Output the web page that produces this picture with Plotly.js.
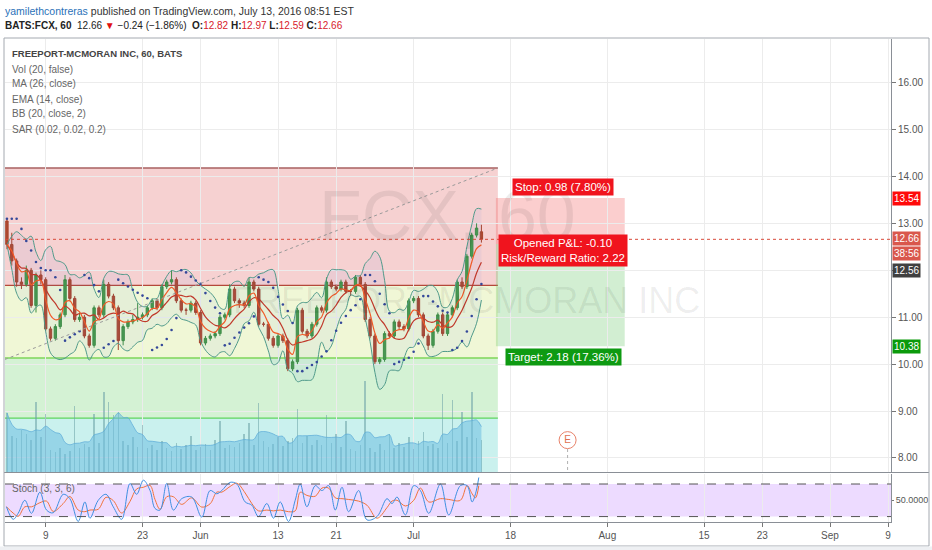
<!DOCTYPE html>
<html><head><meta charset="utf-8">
<script src="https://cdn.plot.ly/plotly-3.0.1.min.js"></script>
<style>html,body{margin:0;padding:0;background:#fff;}#chart{width:932px;height:550px;}</style>
</head><body><div id="chart"></div>
<script>
// ---------- DATA (2 bars per trading day, x = trading days from May 9) ----------
const opens  = [13.05,12.55,12.20,11.75,11.70,12.00,11.25,11.90,11.80,10.75,10.55,10.80,11.05,11.80,11.40,10.95,11.00,10.60,10.40,11.20,11.05,11.70,11.45,11.20,10.50,10.80,10.90,10.95,11.00,11.05,11.20,11.35,11.20,11.65,11.75,11.80,11.35,11.15,11.15,11.30,11.10,10.45,10.55,10.60,10.65,11.00,11.05,11.60,11.35,11.30,11.25,11.75,11.60,10.85,10.85,10.55,10.40,10.60,10.50,9.90,10.05,11.15,10.70,10.60,10.85,11.20,11.15,11.75,11.65,11.60,11.75,11.55,11.55,11.85,11.70,10.95,10.60,10.05,10.10,10.65,10.60,10.90,10.80,10.75,11.35,11.40,11.05,10.60,10.40,10.70,11.05,10.65,11.05,11.20,11.75,11.65,12.30,12.75,12.82];
const highs  = [13.10,12.80,12.25,11.85,12.10,12.05,11.95,12.00,11.85,10.80,10.85,11.10,11.90,11.85,11.45,11.10,11.05,10.65,11.25,11.25,11.80,11.75,11.50,11.25,10.85,10.95,11.05,11.30,11.10,11.25,11.40,11.40,11.70,11.80,12.00,11.85,11.40,11.20,11.35,11.35,11.15,10.60,10.65,10.70,11.05,11.10,11.70,11.65,11.40,11.35,11.85,11.80,11.65,10.90,10.90,10.60,10.65,10.65,10.55,10.10,11.20,11.20,10.75,10.90,11.25,11.25,11.85,11.80,11.70,11.80,11.80,11.60,11.90,11.90,11.75,11.00,10.65,10.15,10.70,10.70,10.95,10.95,10.85,11.40,11.45,11.45,11.10,10.65,10.75,11.10,11.10,11.10,11.25,11.80,11.85,12.35,12.80,13.00,12.97];
const lows   = [12.45,12.10,11.65,11.60,11.65,11.20,11.10,11.70,10.70,10.50,10.50,10.75,11.00,11.35,10.90,10.90,10.55,10.35,10.35,11.00,11.00,11.40,11.15,10.30,10.40,10.75,10.85,10.90,10.95,11.00,11.15,11.15,11.15,11.60,11.70,11.30,11.10,11.05,11.10,11.05,10.40,10.40,10.50,10.55,10.60,10.95,11.00,11.30,11.20,11.20,11.20,11.55,10.80,10.80,10.50,10.35,10.35,10.45,9.85,9.85,10.00,10.65,10.55,10.55,10.80,11.10,11.10,11.60,11.55,11.55,11.50,11.45,11.50,11.65,10.90,10.55,10.00,10.00,10.05,10.55,10.55,10.75,10.70,10.70,11.30,11.00,10.55,10.30,10.35,10.65,10.60,10.60,11.00,11.15,11.60,11.60,12.25,12.70,12.59];
const closes = [12.55,12.20,11.75,11.70,12.00,11.25,11.90,11.80,10.75,10.55,10.80,11.05,11.80,11.40,10.95,11.00,10.60,10.40,11.20,11.05,11.70,11.45,11.20,10.50,10.80,10.90,10.95,11.00,11.05,11.20,11.35,11.20,11.65,11.75,11.80,11.35,11.15,11.15,11.30,11.10,10.45,10.55,10.60,10.65,11.00,11.05,11.60,11.35,11.30,11.25,11.75,11.60,10.85,10.85,10.55,10.40,10.60,10.50,9.90,10.05,11.15,10.70,10.60,10.85,11.20,11.15,11.75,11.65,11.60,11.75,11.55,11.55,11.85,11.70,10.95,10.60,10.05,10.10,10.65,10.60,10.90,10.80,10.75,11.35,11.40,11.05,10.60,10.40,10.70,11.05,10.65,11.05,11.20,11.75,11.65,12.30,12.75,12.90,12.66];
const volumes = [8.5,5.2,4.8,6.0,5.5,4.6,10.0,5.0,8.3,3.2,2.8,3.5,2.6,3.0,9.5,3.4,4.0,3.6,8.3,4.2,11.5,10.0,8.2,8.6,4.5,3.8,5.0,3.6,6.7,3.4,3.9,3.2,4.4,3.5,3.0,4.2,3.3,3.8,5.2,3.1,3.6,4.0,3.2,4.6,7.3,3.4,3.9,3.6,4.2,5.5,7.0,3.8,9.9,4.4,3.6,4.0,5.0,3.7,4.4,4.8,9.0,4.2,5.1,3.9,4.6,3.8,8.2,4.1,5.4,3.6,7.3,3.3,3.0,3.8,13.0,3.5,2.9,4.0,3.2,5.5,3.4,4.2,3.6,5.0,3.3,4.4,5.8,3.7,4.0,3.5,11.1,4.2,10.3,4.5,8.6,5.0,11.5,4.8,4.6];

const stochDays = [-4.05,-3.36,-2.84,-2.15,-1.46,-0.60,0.09,0.78,1.81,2.50,3.36,4.05,4.57,5.43,6.23,6.98,7.85,8.71,9.40,10.09,10.78,11.29,11.81,12.50,13.19,14.05,15.08,16.12,16.98,17.67,18.19,19.05,19.74,20.60,21.29,21.98,22.84,23.53,24.22,25.08,25.77,26.29,26.98,27.84,28.53,29.22,29.91,30.60,31.29,32.32,33.18,34.22,35.25,35.77,36.29,37.15,38.01,38.70,39.56,40.77,41.63,42.83,43.52,44.04,44.39,44.73];
const stochK = [38,15,26,50,26,65,32,27,61,53,11,47,17,50,61,38,15,81,61,87,68,35,32,81,32,53,56,19,68,62,68,83,80,47,41,20,44,17,47,11,50,80,38,77,68,77,32,74,29,68,14,20,53,44,56,23,77,68,26,80,23,77,77,47,62,92];

const tickDays   = [0,10,16,24,30,38,48,58,68,74,81,87];
const tickLabels = ['9','23','Jun','13','21','Jul','18','Aug','15','23','Sep','9'];
const priceTicks = [8,9,10,11,12,13,14,15,16];
const priceTickText = ['8.00','9.00','10.00','11.00','','13.00','14.00','15.00','16.00']; // 12.00 hidden behind the 12.56 label

const fibLevels  = [14.18,11.68,10.13,8.85,7.63];
const fibDays    = [-4.2,46.7];
const trendPrices = [10.10,14.18];
const posDays    = [46.5,59.8];
const posPrices  = {stop:13.54, entry:12.56, target:10.38};
const lastPrice  = 12.66;
const earningsDay = 53.9, earningsPrice = 8.38;

// ---------- derived series ----------
const barDays = closes.map((_, i) => -4 + 0.5 * i);
function sma(a, n){return a.map((_, i)=>{const w=a.slice(Math.max(0,i-n+1),i+1);return w.reduce((s,v)=>s+v,0)/w.length;});}
function ema(a, n){const k=2/(n+1);const o=[];a.forEach((v,i)=>o.push(i?o[i-1]+k*(v-o[i-1]):v));return o;}
function bb(a, n, m){const mid=sma(a,n);const up=[],lo=[];a.forEach((_,i)=>{const w=a.slice(Math.max(0,i-n+1),i+1);const mu=mid[i];const sd=Math.sqrt(w.reduce((s,v)=>s+(v-mu)*(v-mu),0)/w.length);up.push(mu+m*sd);lo.push(mu-m*sd);});return {up,lo};}
function psar(h,l,step,max){const out=[];let up=false,af=step,ep=l[0],sar=h[0];out.push(sar);
 for(let i=1;i<h.length;i++){sar=sar+af*(ep-sar);
  if(up){sar=Math.min(sar,l[i-1],i>1?l[i-2]:l[i-1]);if(l[i]<sar){up=false;sar=ep;ep=l[i];af=step;}else if(h[i]>ep){ep=h[i];af=Math.min(af+step,max);}}
  else{sar=Math.max(sar,h[i-1],i>1?h[i-2]:h[i-1]);if(h[i]>sar){up=true;sar=ep;ep=h[i];af=step;}else if(l[i]<ep){ep=l[i];af=Math.min(af+step,max);}}
  out.push(sar);}return out;}
const ma26 = sma(closes,7), ema14 = ema(closes,4), bands = bb(closes,6,2), sar = psar(highs,lows,0.05,0.2);
const volMA = sma(volumes,6);
const stochD = stochK.map((v,i)=> i? (v+stochK[i-1])/2 : v);

// ---------- layout helpers ----------
const L=5,R=41,T=39,B=28,W=932,H=550,PW=W-L-R,PH=H-T-B;
const xp = px => (px-L)/PW, yp = py => (H-B-py)/PH;
const FONT = '"Liberation Sans",Arial,sans-serif';

const traces = [
 {type:'bar',x:barDays,y:volumes,yaxis:'y2',xaxis:'x',width:0.16,marker:{color:'rgba(105,160,165,0.55)',line:{width:0}},hoverinfo:'skip'},
 {type:'scatter',mode:'lines',x:barDays,y:volMA,yaxis:'y2',xaxis:'x',fill:'tozeroy',fillcolor:'rgba(110,190,225,0.55)',line:{color:'rgba(90,170,215,0.7)',width:1,shape:'spline'},hoverinfo:'skip'},
 {type:'scatter',mode:'lines',x:barDays,y:bands.up,line:{color:'#4f9a8a',width:1,shape:'spline'},hoverinfo:'skip'},
 {type:'scatter',mode:'lines',x:barDays,y:bands.lo,line:{color:'#4f9a8a',width:1,shape:'spline'},fill:'tonexty',fillcolor:'rgba(60,120,230,0.06)',hoverinfo:'skip'},
 {type:'scatter',mode:'lines',x:barDays,y:ma26,line:{color:'#c0392b',width:1.2,shape:'spline'},hoverinfo:'skip'},
 {type:'scatter',mode:'lines',x:barDays,y:ema14,line:{color:'#f05a28',width:1.2,shape:'spline'},hoverinfo:'skip'},
 {type:'scatter',mode:'markers',x:barDays,y:sar,marker:{color:'#34489a',size:2.6},hoverinfo:'skip'},
 {type:'candlestick',x:barDays,open:opens,high:highs,low:lows,close:closes,whiskerwidth:0,
  increasing:{line:{color:'#3f8f3f',width:1},fillcolor:'#4a9a4a'},decreasing:{line:{color:'#a6452c',width:1},fillcolor:'#b04a30'},hoverinfo:'skip'},
 {type:'scatter',mode:'markers+text',x:[earningsDay],y:[earningsPrice],text:['E'],textposition:'middle center',
  textfont:{color:'#e0704f',size:10,family:FONT},marker:{symbol:'circle',size:17,color:'#ffffff',line:{color:'#e8826a',width:1}},hoverinfo:'skip'},
 {type:'scatter',mode:'lines',x:stochDays,y:stochD,xaxis:'x2',yaxis:'y3',line:{color:'#f0733a',width:1,shape:'spline'},hoverinfo:'skip'},
 {type:'scatter',mode:'lines',x:stochDays,y:stochK,xaxis:'x2',yaxis:'y3',line:{color:'#3d8fe0',width:1,shape:'spline'},hoverinfo:'skip'}
];

const shapes = [];
const fibFill = ['rgba(224,102,102,0.30)','rgba(205,230,120,0.30)','rgba(100,210,100,0.28)','rgba(80,210,200,0.30)'];
const fibLine = ['#a86060','#b5483a','#7ed65a','#5fd45f'];
for(let k=0;k<4;k++){
 shapes.push({type:'rect',xref:'x',yref:'y',x0:fibDays[0],x1:fibDays[1],y0:fibLevels[k+1],y1:fibLevels[k],fillcolor:fibFill[k],line:{width:0},layer:'below'});
 shapes.push({type:'line',xref:'x',yref:'y',x0:fibDays[0],x1:fibDays[1],y0:fibLevels[k],y1:fibLevels[k],line:{color:fibLine[k],width:1.3},layer:'below'});
}
shapes.push({type:'line',xref:'x',yref:'y',x0:fibDays[0],x1:fibDays[1],y0:trendPrices[0],y1:trendPrices[1],line:{color:'#9a9a9a',width:1,dash:'dot'}});
shapes.push({type:'rect',xref:'x',yref:'y',x0:posDays[0],x1:posDays[1],y0:posPrices.entry,y1:posPrices.stop,fillcolor:'rgba(242,80,80,0.28)',line:{width:0},layer:'below'});
shapes.push({type:'rect',xref:'x',yref:'y',x0:posDays[0],x1:posDays[1],y0:posPrices.target,y1:posPrices.entry,fillcolor:'rgba(80,190,80,0.26)',line:{width:0},layer:'below'});
shapes.push({type:'line',xref:'paper',yref:'y',x0:0,x1:1,y0:lastPrice,y1:lastPrice,line:{color:'#d84a3a',width:1,dash:'dot'}});
shapes.push({type:'line',xref:'x',yref:'y',x0:earningsDay,x1:earningsDay,y0:earningsPrice-0.19,y1:7.70,line:{color:'#b0b0b0',width:1,dash:'dot'}});
// stoch band
shapes.push({type:'rect',xref:'paper',yref:'y3',x0:0,x1:1,y0:20,y1:80,fillcolor:'rgba(175,90,255,0.22)',line:{width:0},layer:'below'});
[20,80].forEach(v=>shapes.push({type:'line',xref:'paper',yref:'y3',x0:0,x1:1,y0:v,y1:v,line:{color:'#555',width:1,dash:'dash'}}));
// frame
shapes.push({type:'line',xref:'paper',yref:'paper',x0:xp(4),x1:xp(929),y0:yp(472.5),y1:yp(472.5),line:{color:'#8a8f96',width:1}});
shapes.push({type:'rect',xref:'paper',yref:'paper',x0:xp(4),x1:xp(929),y0:yp(546),y1:yp(38),line:{color:'#a4a9b0',width:1}});
shapes.push({type:'rect',xref:'paper',yref:'paper',x0:xp(0),x1:xp(932),y0:yp(550),y1:yp(546.5),fillcolor:'#eef0f3',line:{width:0}});

const ann = [];
function txt(px,py,text,opt){ann.push(Object.assign({xref:'paper',yref:'paper',x:xp(px),y:yp(py),text:text,showarrow:false,xanchor:'left',yanchor:'middle',font:{family:FONT,size:12,color:'#333'}},opt||{}));}
txt(3,11,'<span style="color:#2a71b8">yamilethcontreras</span> published on TradingView.com, July 13, 2016 08:51 EST',{font:{family:FONT,size:10.5,color:'#333'}});
txt(3,26,'<b>BATS:FCX, 60</b>  12.66 <span style="color:#e01010">▼</span> −0.24 (−1.86%)  <b>O:</b><span style="color:#d8202a">12.82</span> <b>H:</b><span style="color:#d8202a">12.97</span> <b>L:</b><span style="color:#d8202a">12.59</span> <b>C:</b><span style="color:#d8202a">12.66</span>',{font:{family:FONT,size:10,color:'#222'}});
txt(10,54,'<b>FREEPORT-MCMORAN INC, 60, BATS</b>',{font:{family:FONT,size:9.5,color:'#444'}});
['Vol (20, false)','MA (26, close)','EMA (14, close)','BB (20, close, 2)','SAR (0.02, 0.02, 0.2)'].forEach((s,i)=>txt(10,69+15*i,s,{font:{family:FONT,size:10,color:'#666'}}));
txt(10,488,'Stoch (3, 3, 6)',{font:{family:FONT,size:10,color:'#666'}});
// watermark
txt(447,216,'FCX, 60',{xanchor:'center',font:{family:FONT,size:70,color:'rgba(0,0,0,0.07)'}});
txt(466,300,'FREEPORT-MCMORAN INC',{xanchor:'center',font:{family:FONT,size:36,color:'rgba(0,0,0,0.07)'}});
// position labels
function lab(d,p,text,bg){ann.push({xref:'x',yref:'y',x:d,y:p,text:text,showarrow:false,bgcolor:bg,borderpad:2,font:{family:FONT,size:11.5,color:'#fff'},align:'center'});}
lab(53.4,13.77,'Stop: 0.98 (7.80%)','#f0141e');
lab(53.4,12.43,'Opened P&amp;L: -0.10<br>Risk/Reward Ratio: 2.22','#f0141e');
lab(53.5,10.15,'Target: 2.18 (17.36%)','#0e9a12');
// price axis labels
function plab(p,text,bg,shift){ann.push({xref:'paper',yref:'y',x:1,y:p,xanchor:'left',xshift:1,yshift:shift||0,text:text,showarrow:false,bgcolor:bg,borderpad:1,font:{family:FONT,size:10,color:'#fff'}});}
plab(posPrices.stop,'13.54','#ff0a0a');
plab(lastPrice,'12.66','#d9574c',1);
plab(lastPrice,'38:56','#d9574c',-14);
plab(posPrices.entry,'12.56','#404040',-26);
plab(posPrices.target,'10.38','#0b9a0b');

const gridc = '#ececec';
const layout = {
 width:W,height:H,margin:{l:L,r:R,t:T,b:B},paper_bgcolor:'#fff',plot_bgcolor:'#fff',showlegend:false,
 font:{family:FONT,size:10,color:'#555'},
 xaxis:{domain:[0,1],anchor:'y',range:[-4.2,87.3],tickvals:tickDays,ticktext:tickLabels,showticklabels:false,showgrid:true,gridcolor:gridc,zeroline:false,rangeslider:{visible:false},fixedrange:true},
 xaxis2:{domain:[0,1],anchor:'y3',matches:'x',range:[-4.2,87.3],tickvals:tickDays,ticktext:tickLabels,showgrid:true,gridcolor:gridc,zeroline:false,ticks:'outside',ticklen:4,tickcolor:'#777',showline:true,linecolor:'#8a8f96',tickfont:{family:FONT,size:10,color:'#555'},fixedrange:true},
 yaxis:{domain:[0.1035,1],anchor:'x',side:'right',range:[7.70,16.93],tickvals:priceTicks,ticktext:priceTickText,showgrid:true,gridcolor:gridc,zeroline:false,ticks:'outside',ticklen:4,tickcolor:'#777',showline:true,linecolor:'#8a8f96',tickfont:{family:FONT,size:10,color:'#555'},fixedrange:true},
 yaxis2:{domain:[0.1035,1],anchor:'x',overlaying:'y',range:[0,62],visible:false,fixedrange:true},
 yaxis3:{domain:[0,0.1],anchor:'x2',side:'right',range:[10,99],tickvals:[50],ticktext:['50.0000'],showgrid:false,zeroline:false,ticks:'outside',ticklen:2,tickcolor:'#777',showline:true,linecolor:'#8a8f96',tickfont:{family:FONT,size:9,color:'#555'},fixedrange:true},
 shapes:shapes,annotations:ann,bargap:0
};
Plotly.newPlot('chart',traces,layout,{displayModeBar:false,staticPlot:true});
</script></body></html>
